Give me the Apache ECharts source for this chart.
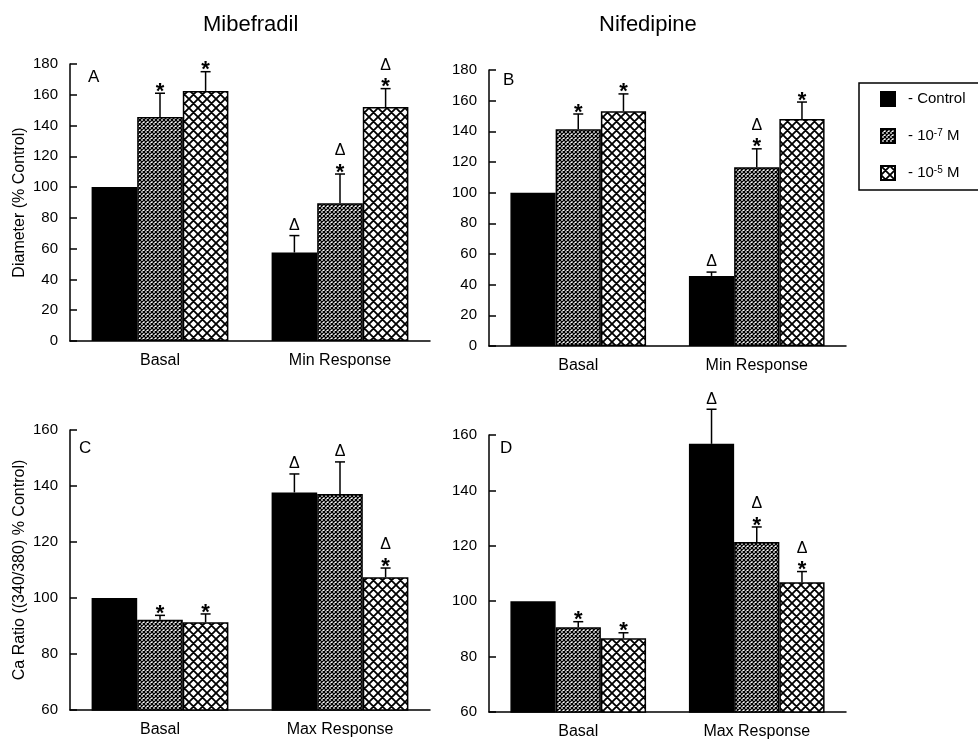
<!DOCTYPE html>
<html>
<head>
<meta charset="utf-8">
<script src="https://cdn.jsdelivr.net/npm/echarts@6/dist/echarts.min.js"></script>
<style>
  html, body { margin: 0; padding: 0; background: #fff; }
  #chart { width: 978px; height: 742px; }
</style>
</head>
<body>
<div id="chart"></div>
<script>
  // categories
  var topCats = ['Basal', 'Min Response']
  var bottomCats = ['Basal', 'Max Response']
  var seriesNames = ['Control', '10-7', '10-5']

  // A - Mibefradil, diameter
  var aControl = [100, 57.5]
  var a7 = [145.5, 89.5]
  var a5 = [162.5, 152]
  var aErrControl = [0, 11]
  var aErr7 = [15.5, 19]
  var aErr5 = [12.5, 12]
  var aMarkControl = ['', 'Δ']
  var aMark7 = ['*', 'Δ*']
  var aMark5 = ['*', 'Δ*']

  // B - Nifedipine, diameter
  var bControl = [100, 45.7]
  var b7 = [141.3, 116.6]
  var b5 = [153.1, 148.1]
  var bErrControl = [0, 2.5]
  var bErr7 = [10, 12]
  var bErr5 = [11.3, 11]
  var bMarkControl = ['', 'Δ']
  var bMark7 = ['*', 'Δ*']
  var bMark5 = ['*', '*']

  // C - Mibefradil, Ca ratio
  var cControl = [100, 137.7]
  var c7 = [92.2, 137.1]
  var c5 = [91.3, 107.4]
  var cErrControl = [0, 6.6]
  var cErr7 = [1.6, 11.5]
  var cErr5 = [3, 3.3]
  var cMarkControl = ['', 'Δ']
  var cMark7 = ['*', 'Δ']
  var cMark5 = ['*', 'Δ*']

  // D - Nifedipine, Ca ratio
  var dControl = [100, 156.8]
  var d7 = [90.6, 121.4]
  var d5 = [86.6, 106.8]
  var dErrControl = [0, 12.5]
  var dErr7 = [2, 5.4]
  var dErr5 = [2, 3.9]
  var dMarkControl = ['', 'Δ']
  var dMark7 = ['*', 'Δ*']
  var dMark5 = ['*', 'Δ*']

  var FONT = '"Liberation Sans", Arial, Helvetica, sans-serif'
  var GAP = 0.24

  function hatch (size, lw) {
    var c = document.createElement('canvas')
    c.width = size
    c.height = size
    var g = c.getContext('2d')
    g.fillStyle = '#fff'
    g.fillRect(0, 0, size, size)
    g.strokeStyle = '#000'
    g.lineWidth = lw
    g.beginPath()
    for (var o = -size; o <= size; o += size) {
      g.moveTo(o, 0)
      g.lineTo(o + size, size)
      g.moveTo(o + size, 0)
      g.lineTo(o, size)
    }
    g.stroke()
    return c
  }

  var fills = [
    '#000',
    { image: hatch(4, 1.25), repeat: 'repeat' },
    { image: hatch(9, 1.8), repeat: 'repeat' }
  ]

  var panels = [
    { grid: { left: 70, top: 64, width: 360, height: 277 }, cats: topCats, min: 0, max: 180,
      name: 'Diameter (% Control)', vals: [aControl, a7, a5], errs: [aErrControl, aErr7, aErr5], marks: [aMarkControl, aMark7, aMark5] },
    { grid: { left: 489, top: 70, width: 357, height: 276 }, cats: topCats, min: 0, max: 180,
      name: '', vals: [bControl, b7, b5], errs: [bErrControl, bErr7, bErr5], marks: [bMarkControl, bMark7, bMark5] },
    { grid: { left: 70, top: 430, width: 360, height: 280 }, cats: bottomCats, min: 60, max: 160,
      name: 'Ca Ratio ((340/380) % Control)', vals: [cControl, c7, c5], errs: [cErrControl, cErr7, cErr5], marks: [cMarkControl, cMark7, cMark5] },
    { grid: { left: 489, top: 435, width: 357, height: 277 }, cats: bottomCats, min: 60, max: 160,
      name: '', vals: [dControl, d7, d5], errs: [dErrControl, dErr7, dErr5], marks: [dMarkControl, dMark7, dMark5] }
  ]

  var grids = []
  var xAxes = []
  var yAxes = []
  var series = []

  panels.forEach(function (p, gi) {
    grids.push(p.grid)
    xAxes.push({
      gridIndex: gi,
      type: 'category',
      data: p.cats,
      axisLine: { lineStyle: { color: '#000', width: 1.5 } },
      axisTick: { inside: true, length: 9, lineStyle: { color: '#000', width: 1.5 } },
      axisLabel: { color: '#000', fontSize: 16, fontFamily: FONT, margin: 12 }
    })
    yAxes.push({
      gridIndex: gi,
      type: 'value',
      min: p.min,
      max: p.max,
      interval: 20,
      name: p.name,
      nameLocation: 'middle',
      nameGap: 42,
      nameTextStyle: { color: '#000', fontSize: 16, fontFamily: FONT },
      axisLine: { show: true, lineStyle: { color: '#000', width: 1.5 } },
      axisTick: { show: true, inside: true, length: 7, lineStyle: { color: '#000', width: 1.5 } },
      axisLabel: { color: '#000', fontSize: 15, fontFamily: FONT, margin: 12 },
      splitLine: { show: false }
    })
    var items = []
    for (var k = 0; k < 3; k++) {
      series.push({
        name: seriesNames[k],
        type: 'bar',
        xAxisIndex: gi,
        yAxisIndex: gi,
        data: p.vals[k],
        barGap: '0%',
        barCategoryGap: (GAP * 100) + '%',
        itemStyle: { color: fills[k], borderColor: '#000', borderWidth: 1.5 },
        emphasis: { disabled: true }
      })
      for (var c = 0; c < p.cats.length; c++) {
        items.push({ cat: c, k: k, v: p.vals[k][c], e: p.errs[k][c], m: p.marks[k][c] })
      }
    }
    series.push({
      type: 'custom',
      xAxisIndex: gi,
      yAxisIndex: gi,
      clip: false,
      silent: true,
      z: 5,
      data: items.map(function (it) { return [it.cat, it.v + it.e] }),
      encode: { x: 0, y: 1 },
      renderItem: function (params, api) {
        var it = items[params.dataIndex]
        var center = api.coord([it.cat, it.v])[0]
        var band = api.size([1, 0])[0]
        var bw = band * (1 - GAP) / 3
        var cx = center + (it.k - 1) * bw
        var yv = api.coord([it.cat, it.v])[1]
        var yt = api.coord([it.cat, it.v + it.e])[1]
        var children = []
        if (it.e > 0) {
          children.push({ type: 'line', shape: { x1: cx, y1: yv, x2: cx, y2: yt }, style: { stroke: '#000', lineWidth: 1.5 } })
          children.push({ type: 'line', shape: { x1: cx - 5, y1: yt, x2: cx + 5, y2: yt }, style: { stroke: '#000', lineWidth: 1.5 } })
        }
        var cur = yt
        it.m.split('').reverse().forEach(function (ch) {
          var cy
          if (ch === '*') {
            cy = cur - 7
            children.push({ type: 'text', style: { text: '*', x: cx, y: cy + 5.5, align: 'center', verticalAlign: 'middle', font: 'bold 22px ' + FONT, fill: '#000' } })
          } else {
            cy = cur - 10
            children.push({ type: 'text', style: { text: 'Δ', x: cx, y: cy, align: 'center', verticalAlign: 'middle', font: '16px ' + FONT, fill: '#000' } })
          }
          cur = cy - 6
        })
        return { type: 'group', children: children }
      }
    })
  })

  function txt (text, x, y, size, align) {
    return { type: 'text', left: x, top: y, style: { text: text, fill: '#000', font: size + 'px ' + FONT, textAlign: align || 'left' } }
  }

  var option = {
    backgroundColor: '#fff',
    animation: false,
    grid: grids,
    xAxis: xAxes,
    yAxis: yAxes,
    series: series,
    legend: {
      data: seriesNames,
      orient: 'vertical',
      left: 859,
      top: 83,
      padding: [8, 40, 9, 21],
      itemGap: 21,
      itemWidth: 14,
      itemHeight: 14,
      icon: 'rect',
      selectedMode: false,
      borderColor: '#000',
      borderWidth: 1.5,
      formatter: function (name) {
        if (name === 'Control') return '- Control'
        return '- 10{sup|' + name.slice(2) + '} M'
      },
      textStyle: {
        color: '#000',
        fontSize: 15,
        fontFamily: FONT,
        padding: [0, 0, 0, 8],
        rich: { sup: { fontSize: 10, verticalAlign: 'top', fontFamily: FONT, color: '#000', padding: [0, 0, 6, 0] } }
      }
    },
    graphic: [
      txt('Mibefradil', 203, 14, 22),
      txt('Nifedipine', 599, 14, 22),
      txt('A', 88, 69, 17),
      txt('B', 503, 72, 17),
      txt('C', 79, 440, 17),
      txt('D', 500, 440, 17)
    ]
  }

  var chart = echarts.init(document.getElementById('chart'), null, { renderer: 'canvas' })
  chart.setOption(option)
</script>
</body>
</html>
